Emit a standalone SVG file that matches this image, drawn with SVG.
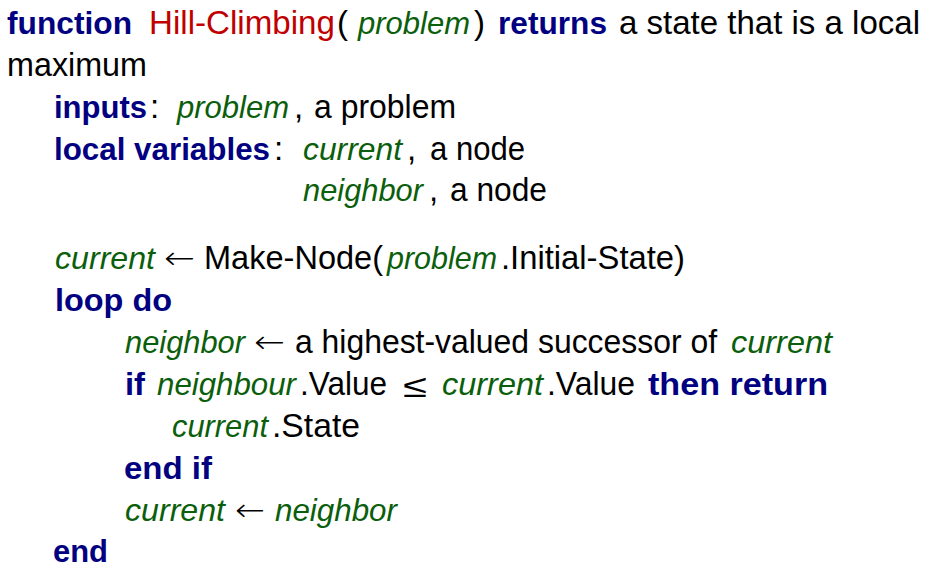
<svg xmlns="http://www.w3.org/2000/svg" width="931" height="570" viewBox="0 0 931 570">
<style>
text{font-family:"Liberation Sans",Arial,sans-serif;font-size:33px;fill:#000}
.kw{font-weight:bold;fill:#000080;font-size:31.5px}
.fn{fill:#c00000}
.v{font-style:italic;fill:#0b5e0b;font-size:31.5px}
.sym{font-family:"DejaVu Sans",sans-serif;font-weight:200;font-size:32px}
</style>
<rect width="931" height="570" fill="#fff"/>
<g id="line1">
<text class="kw" x="7" y="34" textLength="125" lengthAdjust="spacingAndGlyphs">function</text>
<text class="fn" x="149" y="34" textLength="186" lengthAdjust="spacingAndGlyphs">Hill-Climbing</text>
<text x="337" y="34">(</text>
<text class="v" x="358" y="34" textLength="112" lengthAdjust="spacingAndGlyphs">problem</text>
<text x="474" y="34">)</text>
<text class="kw" x="498" y="34" textLength="109" lengthAdjust="spacingAndGlyphs">returns</text>
<text x="619" y="34" textLength="301" lengthAdjust="spacingAndGlyphs">a state that is a local</text>
</g>
<g id="line2">
<text x="7" y="76" textLength="140" lengthAdjust="spacingAndGlyphs">maximum</text>
</g>
<g id="line3">
<text class="kw" x="54" y="118" textLength="93" lengthAdjust="spacingAndGlyphs">inputs</text>
<text x="150" y="118">:</text>
<text class="v" x="177" y="118" textLength="112" lengthAdjust="spacingAndGlyphs">problem</text>
<text x="294" y="118">,</text>
<text x="314" y="118" textLength="142" lengthAdjust="spacingAndGlyphs">a problem</text>
</g>
<g id="line4">
<text class="kw" x="54" y="160" textLength="216" lengthAdjust="spacingAndGlyphs">local variables</text>
<text x="274" y="160">:</text>
<text class="v" x="303" y="160" textLength="99" lengthAdjust="spacingAndGlyphs">current</text>
<text x="407" y="160">,</text>
<text x="430" y="160" textLength="95" lengthAdjust="spacingAndGlyphs">a node</text>
</g>
<g id="line5">
<text class="v" x="303" y="201" textLength="120" lengthAdjust="spacingAndGlyphs">neighbor</text>
<text x="429" y="201">,</text>
<text x="450" y="201" textLength="97" lengthAdjust="spacingAndGlyphs">a node</text>
</g>
<g id="line6">
<text class="v" x="55" y="269" textLength="100" lengthAdjust="spacingAndGlyphs">current</text>
<text class="sym" x="164" y="269" textLength="31" lengthAdjust="spacingAndGlyphs">←</text>
<text x="204" y="269" textLength="179" lengthAdjust="spacingAndGlyphs">Make-Node(</text>
<text class="v" x="387" y="269" textLength="110" lengthAdjust="spacingAndGlyphs">problem</text>
<text x="501" y="269" textLength="184" lengthAdjust="spacingAndGlyphs">.Initial-State)</text>
</g>
<g id="line7">
<text class="kw" x="55" y="311" textLength="117" lengthAdjust="spacingAndGlyphs">loop do</text>
</g>
<g id="line8">
<text class="v" x="125" y="353" textLength="120" lengthAdjust="spacingAndGlyphs">neighbor</text>
<text class="sym" x="254" y="353" textLength="31" lengthAdjust="spacingAndGlyphs">←</text>
<text x="295" y="353" textLength="422" lengthAdjust="spacingAndGlyphs">a highest-valued successor of</text>
<text class="v" x="731" y="353" textLength="101" lengthAdjust="spacingAndGlyphs">current</text>
</g>
<g id="line9">
<text class="kw" x="125" y="395" textLength="20" lengthAdjust="spacingAndGlyphs">if</text>
<text class="v" x="157" y="395" textLength="139" lengthAdjust="spacingAndGlyphs">neighbour</text>
<text x="300" y="395" textLength="87" lengthAdjust="spacingAndGlyphs">.Value</text>
<text class="sym" x="403" y="397" textLength="24" lengthAdjust="spacingAndGlyphs">≤</text>
<text class="v" x="442" y="395" textLength="101" lengthAdjust="spacingAndGlyphs">current</text>
<text x="547" y="395" textLength="88" lengthAdjust="spacingAndGlyphs">.Value</text>
<text class="kw" x="648" y="395" textLength="180" lengthAdjust="spacingAndGlyphs">then return</text>
</g>
<g id="line10">
<text class="v" x="172" y="437" textLength="96" lengthAdjust="spacingAndGlyphs">current</text>
<text x="272" y="437" textLength="88" lengthAdjust="spacingAndGlyphs">.State</text>
</g>
<g id="line11">
<text class="kw" x="124" y="479" textLength="88" lengthAdjust="spacingAndGlyphs">end if</text>
</g>
<g id="line12">
<text class="v" x="125" y="521" textLength="100" lengthAdjust="spacingAndGlyphs">current</text>
<text class="sym" x="235" y="521" textLength="30" lengthAdjust="spacingAndGlyphs">←</text>
<text class="v" x="275" y="521" textLength="122" lengthAdjust="spacingAndGlyphs">neighbor</text>
</g>
<g id="line13">
<text class="kw" x="53" y="562" textLength="55" lengthAdjust="spacingAndGlyphs">end</text>
</g>
</svg>
